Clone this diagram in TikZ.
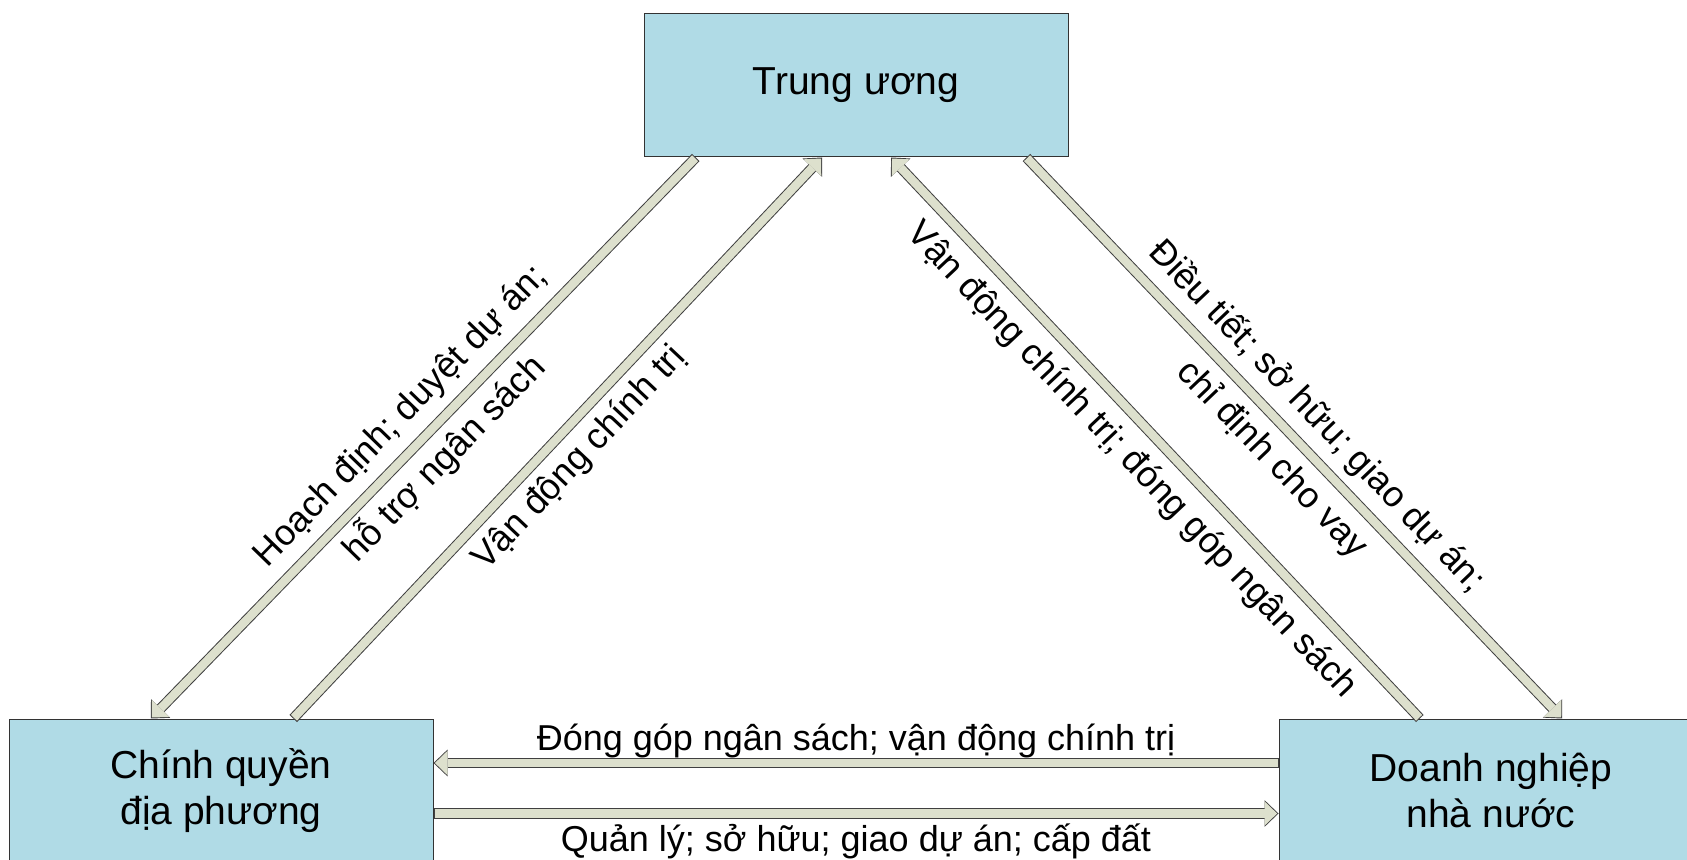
\documentclass[tikz,border=0pt]{standalone}
\usepackage{fontspec}
\setmainfont{Liberation Sans}
\usetikzlibrary{arrows.meta, positioning, calc}

\definecolor{boxblue}{RGB}{176,219,230}
\definecolor{flowfill}{RGB}{221,224,205}
\definecolor{flowedge}{RGB}{64,64,64}

\begin{document}
\begin{tikzpicture}[
    x=0.5pt, y=-0.5pt,
    box/.style={rectangle, draw=black!80, line width=0.5pt, fill=boxblue, minimum width=212pt, minimum height=71.5pt, align=center, font=\fontsize{19.5}{23.4}\selectfont},
    flow/.style={draw=flowedge, line width=5.2pt, -{Triangle[length=7pt, width=13.4pt, line width=0pt 0 0]},
        postaction={draw=flowfill, line width=4.2pt, shorten <=0.5pt, shorten >=0.7pt, -{Triangle[length=6.3pt, width=12.2pt, line width=0pt 0 0]}}},
    lbl/.style={font=\fontsize{18}{21.6}\selectfont, inner sep=0pt, align=center}
]
    \useasboundingbox (0,0) rectangle (1687,860);
    \clip (0,0) rectangle (1687,860);

    % Nodes
    \node[box] (tw) at (856,85.5) {Trung ương};
    \node[box] (cq) at (221,790.5) {Chính quyền\\địa phương};
    \node[box] (dn) at (1491,790.5) {Doanh nghiệp\\nhà nước};

    % Arrows
    \draw[flow] ($(tw.south west)!0.123!(tw.south east)$) -- ($(cq.north west)!0.335!(cq.north east)$)
        node[lbl, midway, sloped] {Hoạch định; duyệt dự án;\\[9.4pt]hỗ trợ ngân sách};
    \draw[flow] ($(cq.north west)!0.670!(cq.north east)$) -- ($(tw.south west)!0.420!(tw.south east)$)
        node[lbl, midway, sloped, below=4pt] {Vận động chính trị};
    \draw[flow] ($(dn.north west)!0.3325!(dn.north east)$) -- ($(tw.south west)!0.5825!(tw.south east)$)
        node[lbl, midway, sloped, below=5.4pt] {Vận động chính trị; đóng góp ngân sách};
    \draw[flow] ($(tw.south west)!0.901!(tw.south east)$) -- ($(dn.north west)!0.6675!(dn.north east)$)
        node[lbl, midway, sloped] {Điều tiết; sở hữu; giao dự án;\\[9.4pt]chỉ định cho vay};
    \draw[flow] ([yshift=13.75pt]dn.west) -- ([yshift=13.75pt]cq.east)
        node[lbl, midway, anchor=base, yshift=6.5pt] {Đóng góp ngân sách; vận động chính trị};
    \draw[flow] ([yshift=-11.5pt]cq.east) -- ([yshift=-11.5pt]dn.west)
        node[lbl, midway, anchor=base, yshift=-18.75pt] {Quản lý; sở hữu; giao dự án; cấp đất};
\end{tikzpicture}
\end{document}
